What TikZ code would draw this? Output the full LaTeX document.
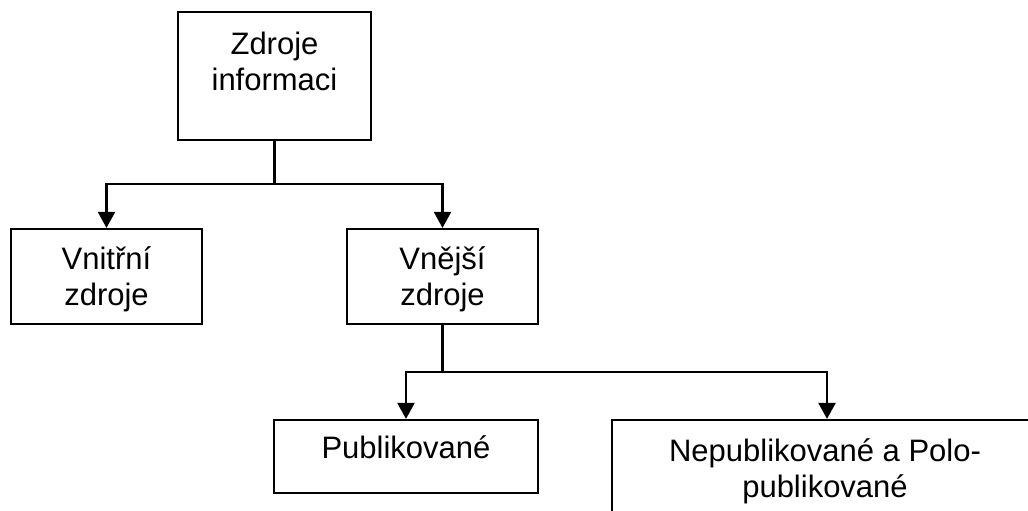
\documentclass[tikz,border=0pt]{standalone}
\usepackage{fontspec}
\setmainfont{Liberation Sans}
\usetikzlibrary{arrows.meta}
\begin{document}
\begin{tikzpicture}[x=1pt,y=-1pt,
  box/.style={draw=black,line width=2.2pt,rectangle,inner sep=0pt,fill=white},
  lbl/.style={align=center,anchor=base,inner sep=0pt,font=\fontsize{31}{36}\selectfont},
  conn/.style={draw=black,line width=2.2pt},
  arr/.style={conn,-{Triangle[width=17pt,length=16pt]}}]
\useasboundingbox (0,0) rectangle (1028,511);
\node[box,minimum width=193pt,minimum height=128pt] (top) at (274.5,76) {};
\node[box,minimum width=191pt,minimum height=95pt] (vni) at (106.5,276.5) {};
\node[box,minimum width=191pt,minimum height=95pt] (vne) at (442.5,276.5) {};
\node[box,minimum width=264pt,minimum height=73pt] (pub) at (406,456.5) {};
\node[box,minimum width=430pt,minimum height=120pt] (nep) at (827,480) {};
\node[lbl] (ttop) at (274.5,90.5) {Zdroje\\informaci};
\node[lbl] (tvni) at (106.5,305.5) {Vnitřní\\zdroje};
\node[lbl] (tvne) at (442.5,305.5) {Vnější\\zdroje};
\node[lbl] (tpub) at (406,458) {Publikované};
\node[lbl] (tnep) at (825,497.5) {Nepublikované a Polo-\\publikované};
\coordinate (j1) at (274.5,184);
\coordinate (j2) at (442.5,372);
\draw[conn] (top.south) -- (j1);
\draw[arr] (j1) -| (vni.north);
\draw[arr] (j1) -| (vne.north);
\draw[conn] (vne.south) -- (j2);
\draw[arr] (j2) -| (pub.north);
\draw[arr] (j2) -| (nep.north);
\end{tikzpicture}
\end{document}
